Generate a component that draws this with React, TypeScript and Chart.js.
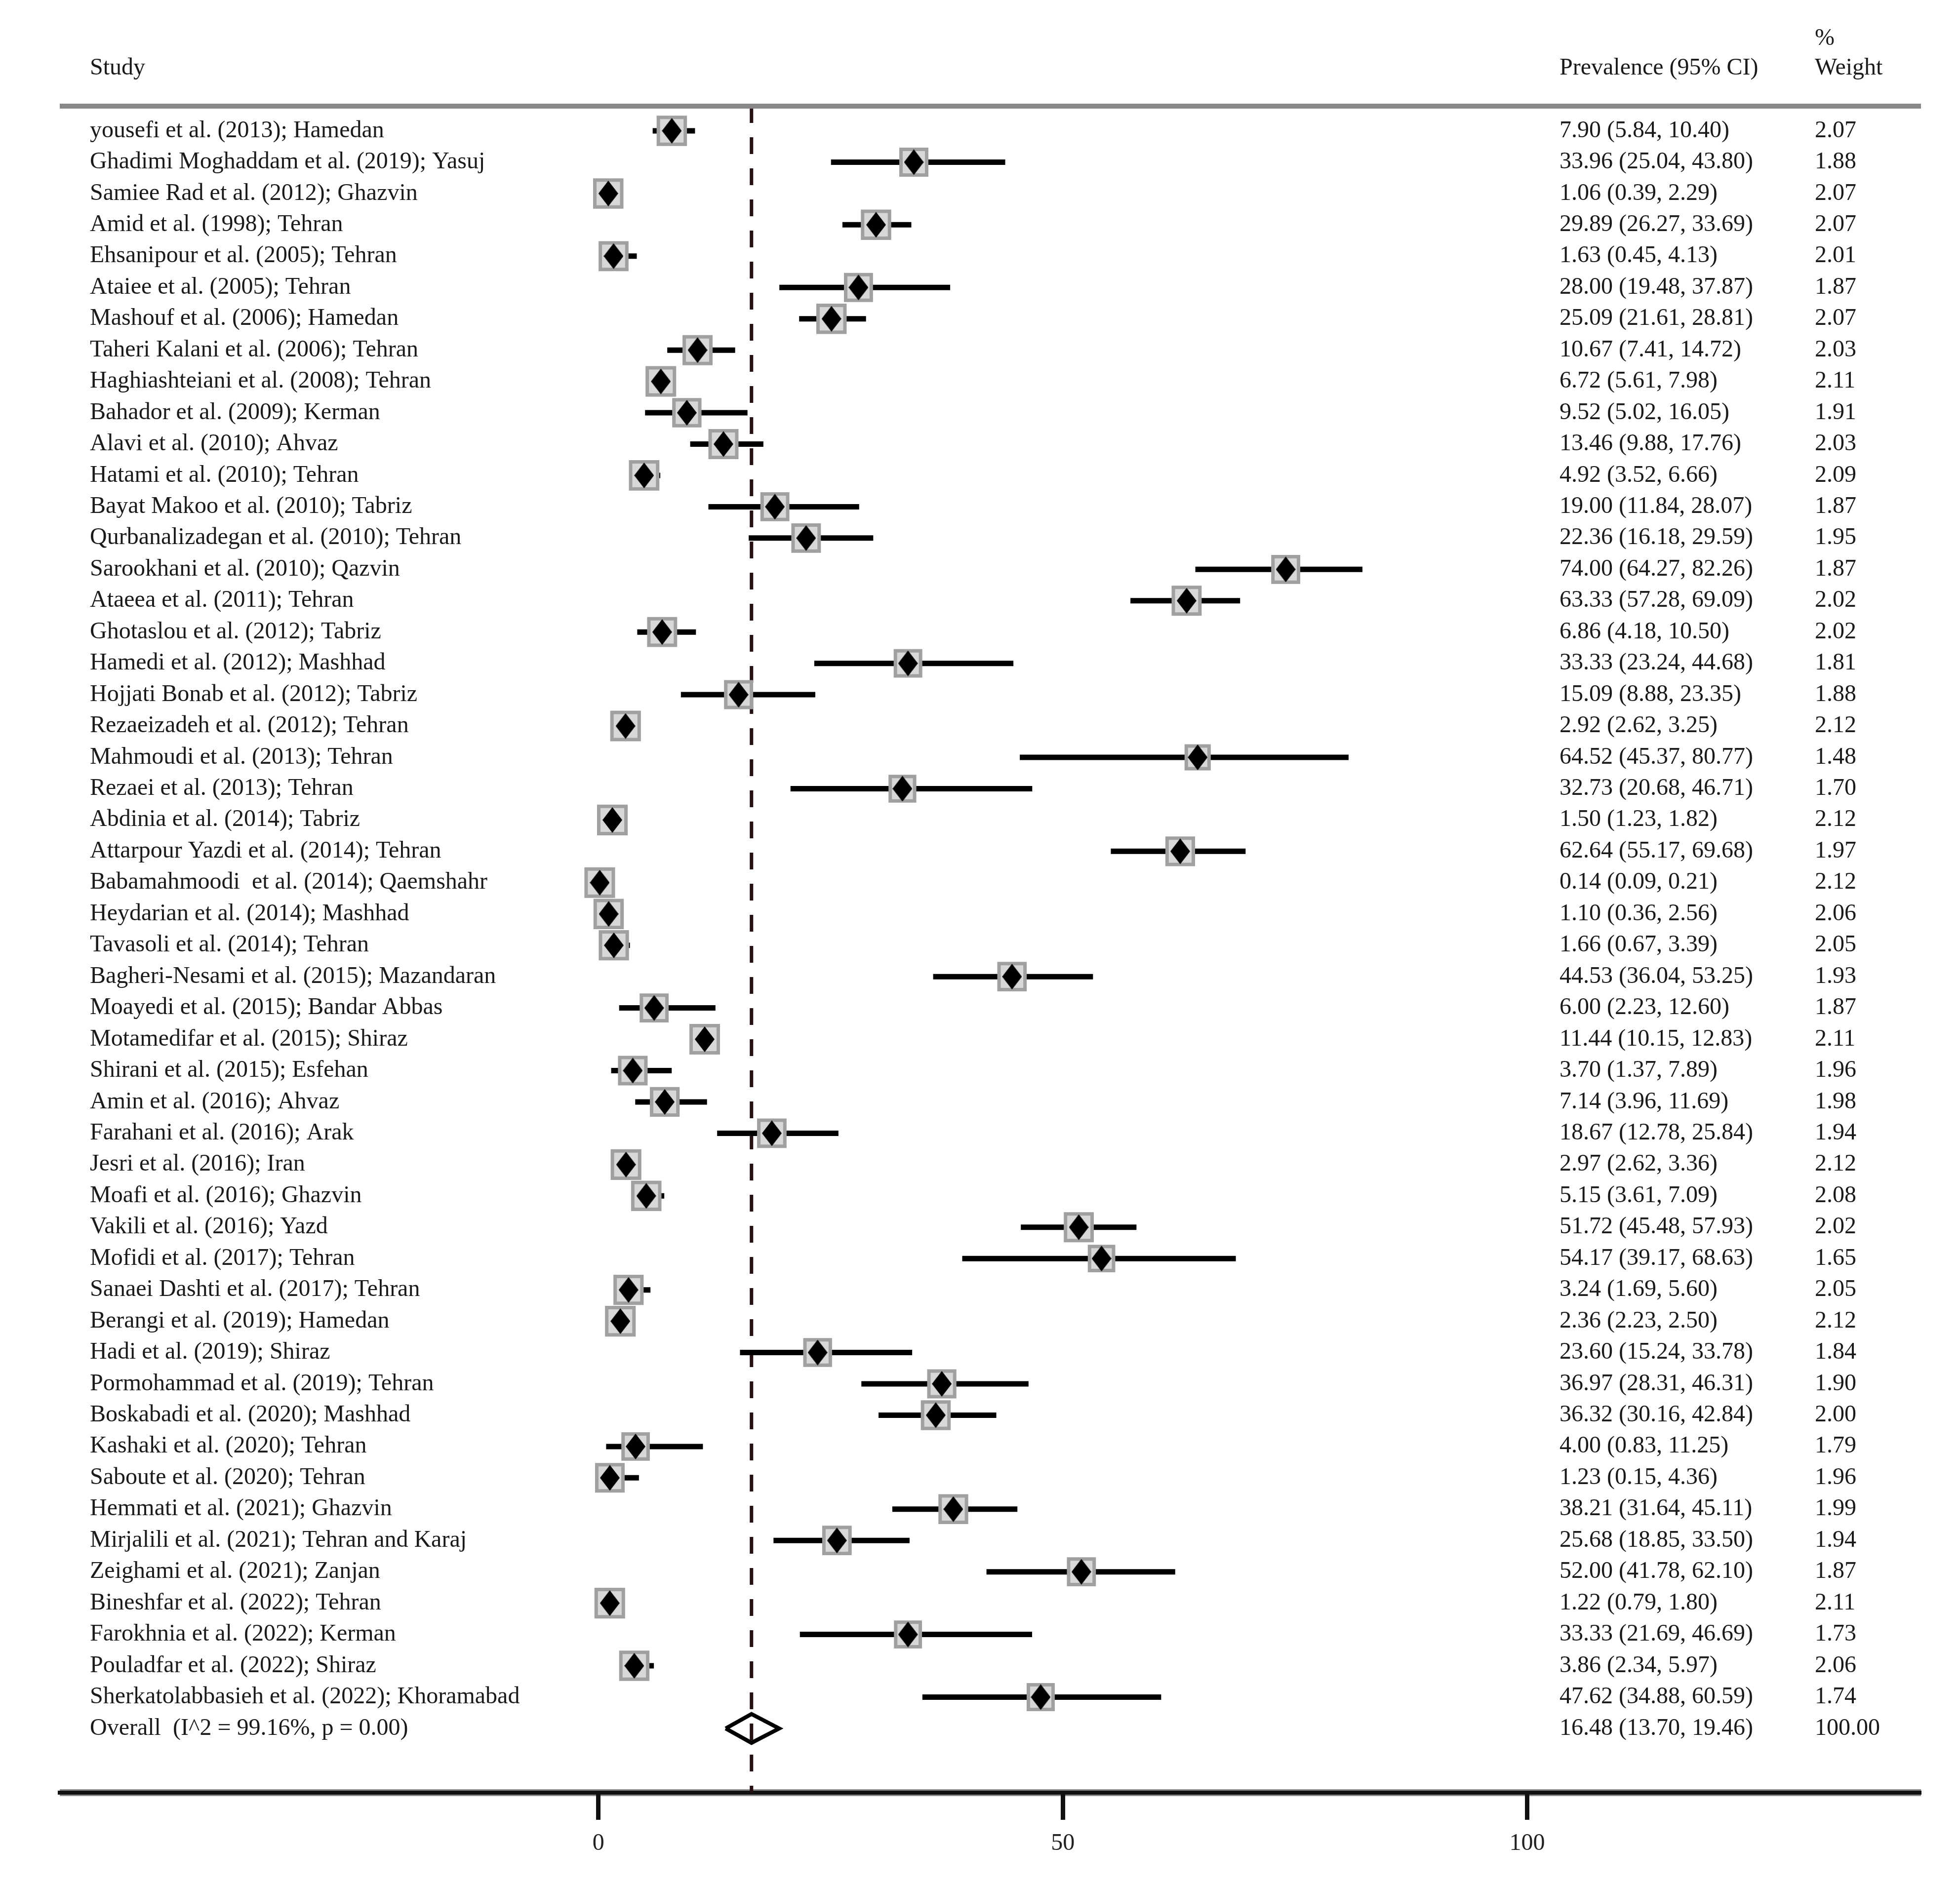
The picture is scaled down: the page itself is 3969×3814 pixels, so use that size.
import { useEffect, useRef } from 'react';
import { Chart, registerables } from 'chart.js';

Chart.register(...registerables);

// Forest plot of pooled prevalence: one row per study, then the overall estimate.
const studies = [
  'yousefi et al. (2013); Hamedan',
  'Ghadimi Moghaddam et al. (2019); Yasuj',
  'Samiee Rad et al. (2012); Ghazvin',
  'Amid et al. (1998); Tehran',
  'Ehsanipour et al. (2005); Tehran',
  'Ataiee et al. (2005); Tehran',
  'Mashouf et al. (2006); Hamedan',
  'Taheri Kalani et al. (2006); Tehran',
  'Haghiashteiani et al. (2008); Tehran',
  'Bahador et al. (2009); Kerman',
  'Alavi et al. (2010); Ahvaz',
  'Hatami et al. (2010); Tehran',
  'Bayat Makoo et al. (2010); Tabriz',
  'Qurbanalizadegan et al. (2010); Tehran',
  'Sarookhani et al. (2010); Qazvin',
  'Ataeea et al. (2011); Tehran',
  'Ghotaslou et al. (2012); Tabriz',
  'Hamedi et al. (2012); Mashhad',
  'Hojjati Bonab et al. (2012); Tabriz',
  'Rezaeizadeh et al. (2012); Tehran',
  'Mahmoudi et al. (2013); Tehran',
  'Rezaei et al. (2013); Tehran',
  'Abdinia et al. (2014); Tabriz',
  'Attarpour Yazdi et al. (2014); Tehran',
  'Babamahmoodi  et al. (2014); Qaemshahr',
  'Heydarian et al. (2014); Mashhad',
  'Tavasoli et al. (2014); Tehran',
  'Bagheri-Nesami et al. (2015); Mazandaran',
  'Moayedi et al. (2015); Bandar Abbas',
  'Motamedifar et al. (2015); Shiraz',
  'Shirani et al. (2015); Esfehan',
  'Amin et al. (2016); Ahvaz',
  'Farahani et al. (2016); Arak',
  'Jesri et al. (2016); Iran',
  'Moafi et al. (2016); Ghazvin',
  'Vakili et al. (2016); Yazd',
  'Mofidi et al. (2017); Tehran',
  'Sanaei Dashti et al. (2017); Tehran',
  'Berangi et al. (2019); Hamedan',
  'Hadi et al. (2019); Shiraz',
  'Pormohammad et al. (2019); Tehran',
  'Boskabadi et al. (2020); Mashhad',
  'Kashaki et al. (2020); Tehran',
  'Saboute et al. (2020); Tehran',
  'Hemmati et al. (2021); Ghazvin',
  'Mirjalili et al. (2021); Tehran and Karaj',
  'Zeighami et al. (2021); Zanjan',
  'Bineshfar et al. (2022); Tehran',
  'Farokhnia et al. (2022); Kerman',
  'Pouladfar et al. (2022); Shiraz',
  'Sherkatolabbasieh et al. (2022); Khoramabad',
];

const estimates = [
  7.9, 33.96, 1.06, 29.89, 1.63, 28.0, 25.09, 10.67, 6.72, 9.52,
  13.46, 4.92, 19.0, 22.36, 74.0, 63.33, 6.86, 33.33, 15.09, 2.92,
  64.52, 32.73, 1.5, 62.64, 0.14, 1.1, 1.66, 44.53, 6.0, 11.44,
  3.7, 7.14, 18.67, 2.97, 5.15, 51.72, 54.17, 3.24, 2.36, 23.6,
  36.97, 36.32, 4.0, 1.23, 38.21, 25.68, 52.0, 1.22, 33.33, 3.86,
  47.62,
];

const lower = [
  5.84, 25.04, 0.39, 26.27, 0.45, 19.48, 21.61, 7.41, 5.61, 5.02,
  9.88, 3.52, 11.84, 16.18, 64.27, 57.28, 4.18, 23.24, 8.88, 2.62,
  45.37, 20.68, 1.23, 55.17, 0.09, 0.36, 0.67, 36.04, 2.23, 10.15,
  1.37, 3.96, 12.78, 2.62, 3.61, 45.48, 39.17, 1.69, 2.23, 15.24,
  28.31, 30.16, 0.83, 0.15, 31.64, 18.85, 41.78, 0.79, 21.69, 2.34,
  34.88,
];

const upper = [
  10.4, 43.8, 2.29, 33.69, 4.13, 37.87, 28.81, 14.72, 7.98, 16.05,
  17.76, 6.66, 28.07, 29.59, 82.26, 69.09, 10.5, 44.68, 23.35, 3.25,
  80.77, 46.71, 1.82, 69.68, 0.21, 2.56, 3.39, 53.25, 12.6, 12.83,
  7.89, 11.69, 25.84, 3.36, 7.09, 57.93, 68.63, 5.6, 2.5, 33.78,
  46.31, 42.84, 11.25, 4.36, 45.11, 33.5, 62.1, 1.8, 46.69, 5.97,
  60.59,
];

const weights = [
  2.07, 1.88, 2.07, 2.07, 2.01, 1.87, 2.07, 2.03, 2.11, 1.91,
  2.03, 2.09, 1.87, 1.95, 1.87, 2.02, 2.02, 1.81, 1.88, 2.12,
  1.48, 1.7, 2.12, 1.97, 2.12, 2.06, 2.05, 1.93, 1.87, 2.11,
  1.96, 1.98, 1.94, 2.12, 2.08, 2.02, 1.65, 2.05, 2.12, 1.84,
  1.9, 2.0, 1.79, 1.96, 1.99, 1.94, 1.87, 2.11, 1.73, 2.06,
  1.74,
];

const overallLabel = 'Overall  (I^2 = 99.16%, p = 0.00)';
const overallEstimate = 16.48;
const overallLower = 13.7;
const overallUpper = 19.46;
const overallWeight = 100.0;

const xTicks = [0, 50, 100];

const headers = { study: 'Study', estimate: 'Prevalence (95% CI)', weightTop: '%', weightBottom: 'Weight' };

// Canvas geometry
const W = 3953;
const H = 3798;
const X_MIN = -58;
const X_MAX = 142.4;
const ROW_TOP = -0.788;
const ROW_BOTTOM = 53.05;
const STUDY_X = 174;
const VALUE_X = 3150;
const WEIGHT_X = 3667;
const TEXT_FONT = '48px "Liberation Serif", "Times New Roman", serif';
const TEXT_COLOR = '#1a1a1a';
const OVERALL_HALF_HEIGHT = 0.46;

const fmt = (v: number) => v.toFixed(2);

export default function App() {
  const ref = useRef<HTMLCanvasElement>(null);

  useEffect(() => {
    const canvas = ref.current;
    if (!canvas) return;
    const n = studies.length;

    // Solid black diamond used as the point estimate marker
    const diamond = document.createElement('canvas');
    diamond.width = 40;
    diamond.height = 52;
    const dctx = diamond.getContext('2d')!;
    dctx.fillStyle = '#000';
    dctx.beginPath();
    dctx.moveTo(20, 0);
    dctx.lineTo(40, 26);
    dctx.lineTo(20, 52);
    dctx.lineTo(0, 26);
    dctx.closePath();
    dctx.fill();

    const ciData: { x: number; y: number }[] = [];
    studies.forEach((_, i) => {
      ciData.push({ x: lower[i], y: i }, { x: upper[i], y: i }, { x: NaN, y: NaN });
    });
    const pointData = studies.map((_, i) => ({ x: estimates[i], y: i }));
    const overallData = [
      { x: overallLower, y: n },
      { x: overallEstimate, y: n - OVERALL_HALF_HEIGHT },
      { x: overallUpper, y: n },
      { x: overallEstimate, y: n + OVERALL_HALF_HEIGHT },
      { x: overallLower, y: n },
    ];

    const textPlugin = {
      id: 'forestText',
      beforeDraw(chart: any) {
        const { ctx, chartArea } = chart;
        ctx.save();
        ctx.strokeStyle = '#8a8a8a';
        ctx.lineWidth = 14;
        ctx.beginPath();
        ctx.moveTo(chartArea.left, chartArea.bottom);
        ctx.lineTo(chartArea.right, chartArea.bottom);
        ctx.stroke();
        ctx.restore();
      },
      afterDraw(chart: any) {
        const { ctx, chartArea } = chart;
        const y = chart.scales.y;
        ctx.save();
        ctx.strokeStyle = '#888888';
        ctx.lineWidth = 10;
        ctx.beginPath();
        ctx.moveTo(chartArea.left, chartArea.top);
        ctx.lineTo(chartArea.right, chartArea.top);
        ctx.stroke();

        ctx.fillStyle = TEXT_COLOR;
        ctx.font = TEXT_FONT;
        ctx.textBaseline = 'middle';
        ctx.textAlign = 'left';
        ctx.fillText(headers.study, STUDY_X, 130);
        ctx.fillText(headers.estimate, VALUE_X, 130);
        ctx.fillText(headers.weightTop, WEIGHT_X, 70);
        ctx.fillText(headers.weightBottom, WEIGHT_X, 130);

        studies.forEach((s, i) => {
          const py = y.getPixelForValue(i);
          ctx.fillText(s, STUDY_X, py);
          ctx.fillText(`${fmt(estimates[i])} (${fmt(lower[i])}, ${fmt(upper[i])})`, VALUE_X, py);
          ctx.fillText(fmt(weights[i]), WEIGHT_X, py);
        });
        const oy = y.getPixelForValue(n);
        ctx.fillText(overallLabel, STUDY_X, oy);
        ctx.fillText(`${fmt(overallEstimate)} (${fmt(overallLower)}, ${fmt(overallUpper)})`, VALUE_X, oy);
        ctx.fillText(fmt(overallWeight), WEIGHT_X, oy);
        ctx.restore();
      },
    };

    const chart = new Chart(canvas, {
      type: 'line',
      data: {
        datasets: [
          {
            label: 'estimate',
            data: pointData,
            showLine: false,
            pointStyle: diamond as any,
            pointRadius: 20,
            order: 0,
          },
          {
            label: 'overall',
            data: overallData,
            showLine: true,
            borderColor: '#000',
            borderWidth: 8,
            borderJoinStyle: 'miter',
            pointRadius: 0,
            fill: false,
            tension: 0,
            order: 0,
          },
          {
            label: 'weight',
            data: pointData,
            showLine: false,
            pointStyle: 'rect',
            pointRadius: (c: any) => 39 * Math.sqrt(weights[c.dataIndex] / 2.12),
            pointBackgroundColor: '#d8d8d8',
            pointBorderColor: '#a0a0a0',
            pointBorderWidth: 7,
            order: 1,
          },
          {
            label: 'ci',
            data: ciData,
            showLine: true,
            spanGaps: false,
            borderColor: '#000',
            borderWidth: 11,
            borderCapStyle: 'butt',
            pointRadius: 0,
            fill: false,
            order: 2,
          },
          {
            label: 'pooled',
            data: [
              { x: overallEstimate, y: ROW_TOP },
              { x: overallEstimate, y: ROW_BOTTOM },
            ],
            showLine: true,
            borderColor: '#241010',
            borderWidth: 7,
            borderDash: [34, 29],
            pointRadius: 0,
            fill: false,
            order: 3,
          },
        ],
      },
      options: {
        responsive: false,
        animation: false,
        events: [],
        layout: { padding: { left: 113, right: 71, top: 207, bottom: 43 } },
        plugins: { legend: { display: false }, tooltip: { enabled: false } },
        scales: {
          x: {
            type: 'linear',
            min: X_MIN,
            max: X_MAX,
            afterBuildTicks: (scale: any) => {
              scale.ticks = xTicks.map((value) => ({ value }));
            },
            afterFit: (scale: any) => {
              scale.height = 132;
            },
            grid: {
              drawOnChartArea: false,
              drawTicks: true,
              tickLength: 55,
              tickWidth: 9,
              tickColor: '#111',
            },
            border: { display: true, width: 8, color: '#111' },
            ticks: {
              font: { family: '"Liberation Serif", "Times New Roman", serif', size: 48 },
              color: '#222',
              padding: 20,
              maxRotation: 0,
              autoSkip: false,
            },
          },
          y: {
            type: 'linear',
            reverse: true,
            min: ROW_TOP,
            max: ROW_BOTTOM,
            display: false,
          },
        },
      },
      plugins: [textPlugin],
    } as any);

    return () => chart.destroy();
  }, []);

  return <canvas ref={ref} width={W} height={H} style={{ width: W, height: H, display: 'block' }} />;
}
